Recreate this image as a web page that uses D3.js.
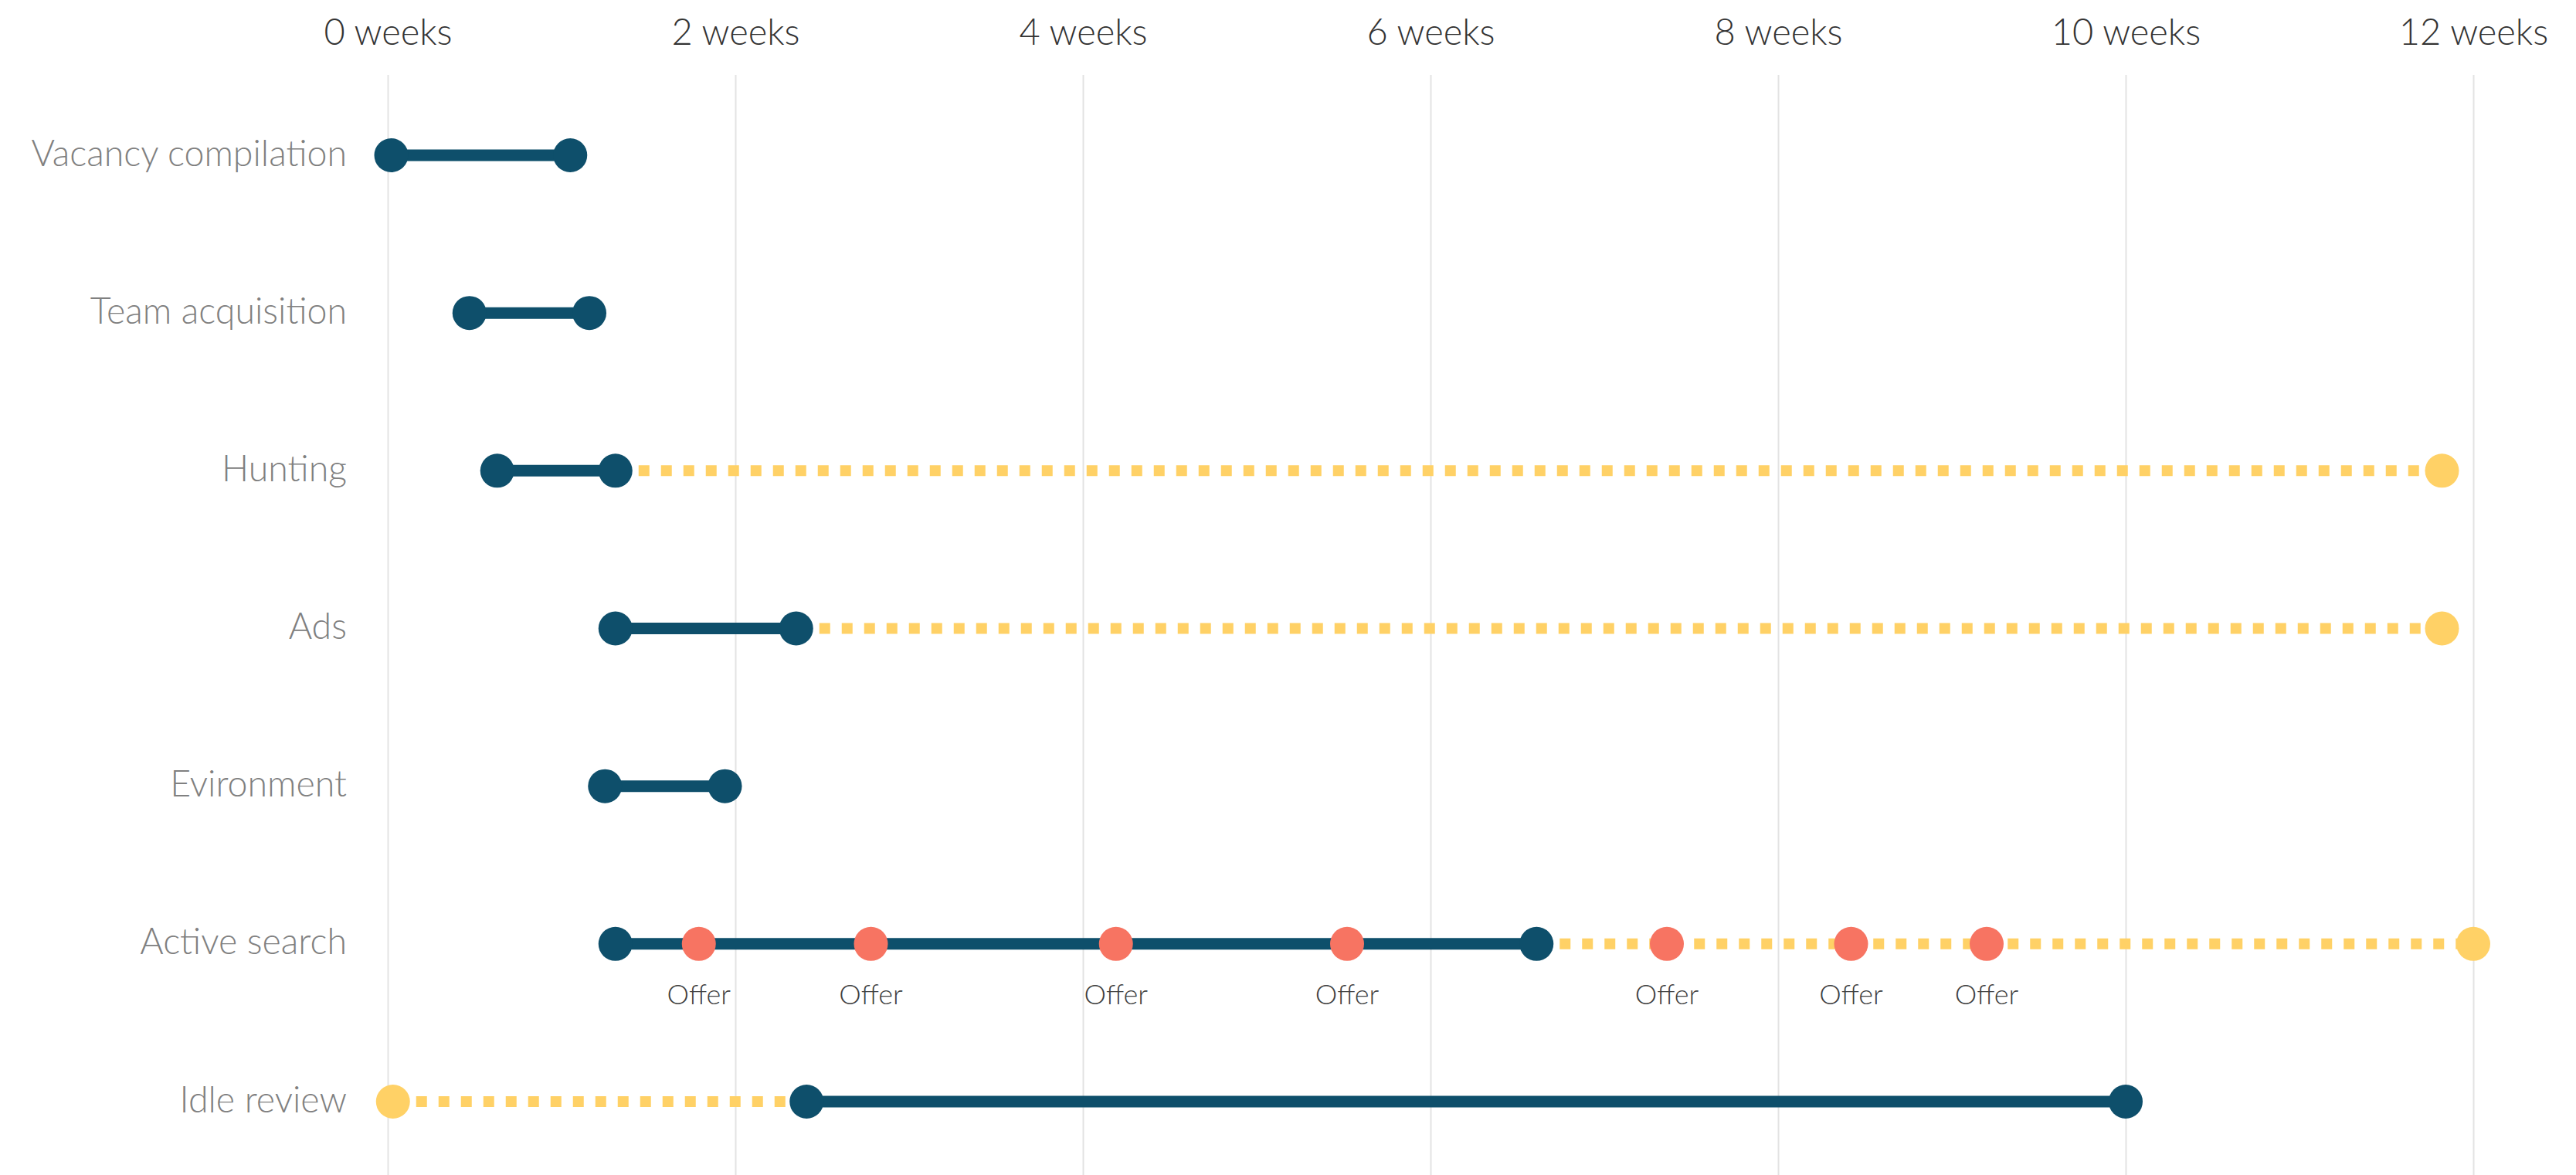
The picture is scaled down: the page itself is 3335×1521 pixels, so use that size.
<!DOCTYPE html>
<html lang="en">

<head>
    <meta charset="UTF-8">
    <title>Recruiting timeline</title>
    <script src="https://cdn.jsdelivr.net/npm/d3@7"></script>
    <style>
        body {
            margin: 0;
            background: #fff;
        }

        .grid line {
            stroke: #e3e3e3;
            stroke-width: 2px;
        }

        .xaxis text {
            font-family: Lato, sans-serif;
            font-weight: 300;
            font-size: 47px;
            fill: #333;
        }

        .yaxis text {
            font-family: Lato, sans-serif;
            font-weight: 300;
            font-size: 46.5px;
            fill: #808080;
        }

        .offer-label {
            font-family: Lato, sans-serif;
            font-weight: 300;
            font-size: 36px;
            fill: #404040;
        }
    </style>
</head>

<body>
</body>

<script>
    // data
    const categories = ['Vacancy compilation', 'Team acquisition', 'Hunting', 'Ads', 'Evironment', 'Active search', 'Idle review']
    const activeStart = [0.02, 0.47, 0.63, 1.31, 1.25, 1.31, 2.41]
    const activeEnd = [1.05, 1.16, 1.31, 2.35, 1.94, 6.61, 10.0]
    // waiting periods (yellow dashed), null = none
    const waitStart = [null, null, 1.31, 2.35, null, 6.61, 0.03]
    const waitEnd = [null, null, 11.82, 11.82, null, 12.0, 2.41]
    const offerRow = 'Active search'
    const offerWeeks = [1.79, 2.78, 4.19, 5.52, 7.36, 8.42, 9.20]
    const weekTicks = [0, 2, 4, 6, 8, 10, 12]

    const width = 3335
    const height = 1521
    const r = 22
    const navy = '#0e4f6b'
    const yellow = '#ffd166'
    const coral = '#f77462'

    const svg = d3.select('body').append('svg').attr('width', width).attr('height', height)

    const x = d3.scaleLinear().domain([0, 12]).range([502, 3202])
    const y = d3.scalePoint().domain(categories).range([201, 1426])

    const rows = categories.map((c, i) => ({
        cat: c,
        s: activeStart[i],
        e: activeEnd[i],
        ws: waitStart[i],
        we: waitEnd[i]
    }))
    const waits = rows.filter(d => d.ws != null)

    // gridlines
    const gridTop = 97
    svg.append('g')
        .attr('class', 'grid')
        .attr('transform', 'translate(0,' + gridTop + ')')
        .call(d3.axisBottom(x).tickValues(weekTicks).tickSize(height - gridTop).tickFormat(''))
        .call(g => g.select('.domain').remove())

    // top axis labels
    svg.append('g')
        .attr('class', 'xaxis')
        .attr('transform', 'translate(0,58)')
        .call(d3.axisTop(x).tickValues(weekTicks).tickSize(0).tickPadding(0).tickFormat(d => d + ' weeks'))
        .call(g => g.select('.domain').remove())

    // row labels
    svg.append('g')
        .attr('class', 'yaxis')
        .attr('transform', 'translate(449,0)')
        .call(d3.axisLeft(y).tickSize(0).tickPadding(0))
        .call(g => g.select('.domain').remove())
        .selectAll('text').attr('dy', '0.28em')

    // yellow dashed waiting lines
    svg.selectAll('.wait')
        .data(waits)
        .enter()
        .append('line')
        .attr('class', 'wait')
        .attr('x1', d => x(d.ws) + r + 8)
        .attr('x2', d => x(d.we))
        .attr('y1', d => y(d.cat))
        .attr('y2', d => y(d.cat))
        .attr('stroke', yellow)
        .attr('stroke-width', 14)
        .attr('stroke-dasharray', '14 15')

    // active lines
    svg.selectAll('.active')
        .data(rows)
        .enter()
        .append('line')
        .attr('class', 'active')
        .attr('x1', d => x(d.s))
        .attr('x2', d => x(d.e))
        .attr('y1', d => y(d.cat))
        .attr('y2', d => y(d.cat))
        .attr('stroke', navy)
        .attr('stroke-width', 15)

    // yellow end dots (the waiting end that is not an active end)
    svg.selectAll('.wait-dot')
        .data(waits)
        .enter()
        .append('circle')
        .attr('class', 'wait-dot')
        .attr('cx', d => x(d.we === d.s ? d.ws : d.we))
        .attr('cy', d => y(d.cat))
        .attr('r', r)
        .attr('fill', yellow)

    // navy dots
    const ends = []
    rows.forEach(d => {
        ends.push({ cat: d.cat, v: d.s })
        ends.push({ cat: d.cat, v: d.e })
    })
    svg.selectAll('.end-dot')
        .data(ends)
        .enter()
        .append('circle')
        .attr('class', 'end-dot')
        .attr('cx', d => x(d.v))
        .attr('cy', d => y(d.cat))
        .attr('r', r)
        .attr('fill', navy)

    // offers
    svg.selectAll('.offer')
        .data(offerWeeks)
        .enter()
        .append('circle')
        .attr('class', 'offer')
        .attr('cx', d => x(d))
        .attr('cy', y(offerRow))
        .attr('r', r)
        .attr('fill', coral)

    svg.selectAll('.offer-label')
        .data(offerWeeks)
        .enter()
        .append('text')
        .attr('class', 'offer-label')
        .attr('x', d => x(d))
        .attr('y', y(offerRow) + 78)
        .attr('text-anchor', 'middle')
        .text('Offer')
</script>

</html>
